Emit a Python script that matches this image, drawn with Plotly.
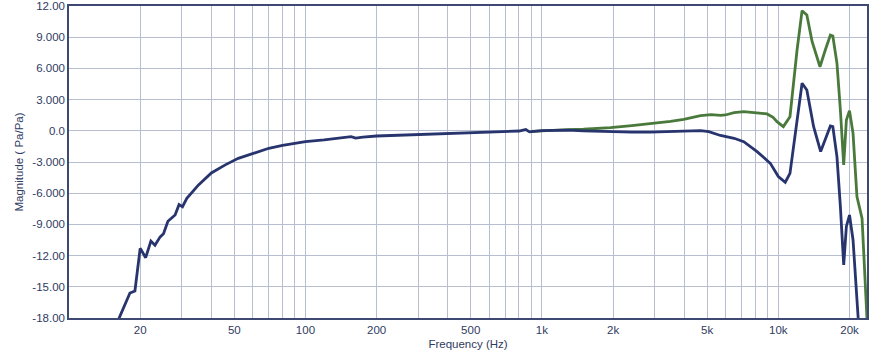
import plotly.graph_objects as go

# ---- data ----
blue_freq = [15, 16.3, 18.1, 19.0, 20, 21.1, 22.2, 23.1, 24.3, 25.1, 26.2, 28.1, 29.2, 30.2,
             31.5, 35.3, 40, 45.6, 52, 61, 70, 80, 90, 100, 120, 142, 150, 156, 163, 175,
             200, 254, 300, 400, 500, 672, 800, 855, 886, 1000, 1290, 1500, 1950, 2400,
             2880, 3400, 3980, 4690, 5080, 5690, 6500, 7140, 8130, 9250, 10000, 10700,
             11200, 12000, 12600, 13200, 14100, 15100, 15800, 16600, 17000, 17700, 18300,
             18900, 19400, 20000, 20700, 21700, 22200]
blue_mag = [-21, -18, -15.6, -15.4, -11.3, -12.2, -10.6, -11.0, -10.2, -9.9, -8.7, -8.1, -7.1, -7.3,
            -6.5, -5.2, -4.05, -3.3, -2.65, -2.1, -1.68, -1.4, -1.2, -1.05, -0.88, -0.72, -0.64, -0.56, -0.7, -0.6,
            -0.5, -0.42, -0.34, -0.22, -0.15, -0.05, -0.02, 0.12, -0.1, 0.01, 0.06, 0.0, -0.08, -0.12,
            -0.12, -0.05, -0.02, 0.02, -0.08, -0.45, -0.72, -1.05, -2.0, -3.13, -4.4, -4.95,
            -4.1, 0.72, 4.57, 3.92, 0.4, -2.0, -0.88, 0.46, 0.4, -2.5, -7.3,
            -12.9, -9.2, -8.1, -10.5, -18, -21]

green_freq = [900, 1000, 1290, 1500, 1950, 2400, 2980, 3500, 3980, 4690, 5200, 5700, 5970, 6500,
              7140, 7600, 8300, 8960, 9500, 9870, 10500, 11200, 12000, 12600, 13200, 13900, 15000,
              15800, 16600, 17000, 17700, 18300, 18900, 19400, 20000, 20700, 21500, 22600, 23700]
green_mag = [-0.05, 0.02, 0.12, 0.15, 0.3, 0.5, 0.72, 0.9, 1.1, 1.45, 1.55, 1.48, 1.52, 1.74,
             1.84, 1.8, 1.7, 1.62, 1.3, 0.88, 0.4, 1.36, 7.77, 11.55, 11.13, 8.57, 6.16,
             7.77, 9.21, 9.12, 6.49, 2.0, -3.29, 1.04, 1.94, -0.24, -6.33, -8.42, -18]

x_grid_vals = [20, 30, 40, 50, 60, 70, 80, 90, 100, 200, 300, 400, 500, 600, 700, 800, 900,
               1000, 2000, 3000, 4000, 5000, 6000, 7000, 8000, 9000, 10000, 20000]
x_label_map = {20: "20", 50: "50", 100: "100", 200: "200", 500: "500", 1000: "1k",
               2000: "2k", 5000: "5k", 10000: "10k", 20000: "20k"}
x_decades = [100, 1000, 10000]

y_tick_vals = [12, 9, 6, 3, 0, -3, -6, -9, -12, -15, -18]
y_tick_text = ["12.00", "9.000", "6.000", "3.000", "0.0", "-3.000", "-6.000", "-9.000",
               "-12.00", "-15.00", "-18.00"]

# ---- figure ----
BLUE = "#27346e"
GREEN = "#4a7a3b"
TXT = "#2f3b5f"
GRID = "#b7bed0"
GRID_DARK = "#8e97b0"
FONT = "Liberation Sans, Arial, sans-serif"

fig = go.Figure()
fig.add_trace(go.Scatter(x=green_freq, y=green_mag, mode="lines",
                         line=dict(color=GREEN, width=2.8), hoverinfo="skip", showlegend=False))
fig.add_trace(go.Scatter(x=blue_freq, y=blue_mag, mode="lines",
                         line=dict(color=BLUE, width=2.8), hoverinfo="skip", showlegend=False))

fig.update_layout(
    width=880, height=350,
    margin=dict(l=69, r=13, t=6, b=32),
    paper_bgcolor="white", plot_bgcolor="white",
    font=dict(family=FONT, size=11.5, color=TXT),
    xaxis=dict(
        type="log", range=[1.0, 4.375], automargin=False, ticklabeloverflow="allow",
        tickmode="array", tickvals=x_grid_vals,
        ticktext=[x_label_map.get(v, "") for v in x_grid_vals],
        showgrid=True, gridcolor=GRID, gridwidth=1,
        showline=True, linecolor="#3d4973", linewidth=1.5, mirror=True,
        ticks="", zeroline=False,
        title=dict(text="Frequency (Hz)", standoff=6, font=dict(size=11.5, color=TXT)),
    ),
    xaxis2=dict(
        type="log", range=[1.0, 4.375], overlaying="x", matches="x", anchor="y",
        automargin=False,
        tickmode="array", tickvals=x_decades, showticklabels=False,
        showgrid=True, gridcolor=GRID_DARK, gridwidth=1, showline=False, ticks="",
        zeroline=False,
    ),
    yaxis=dict(
        range=[-18, 12], automargin=False, ticklabeloverflow="allow",
        tickmode="array", tickvals=y_tick_vals, ticktext=y_tick_text,
        showgrid=True, gridcolor=GRID, gridwidth=1,
        showline=True, linecolor="#3d4973", linewidth=1.5, mirror=True,
        ticks="", zeroline=False,
        title=dict(text="Magnitude ( Pa/Pa)", standoff=6, font=dict(size=11.5, color=TXT)),
    ),
)

fig.write_html("out.html")
